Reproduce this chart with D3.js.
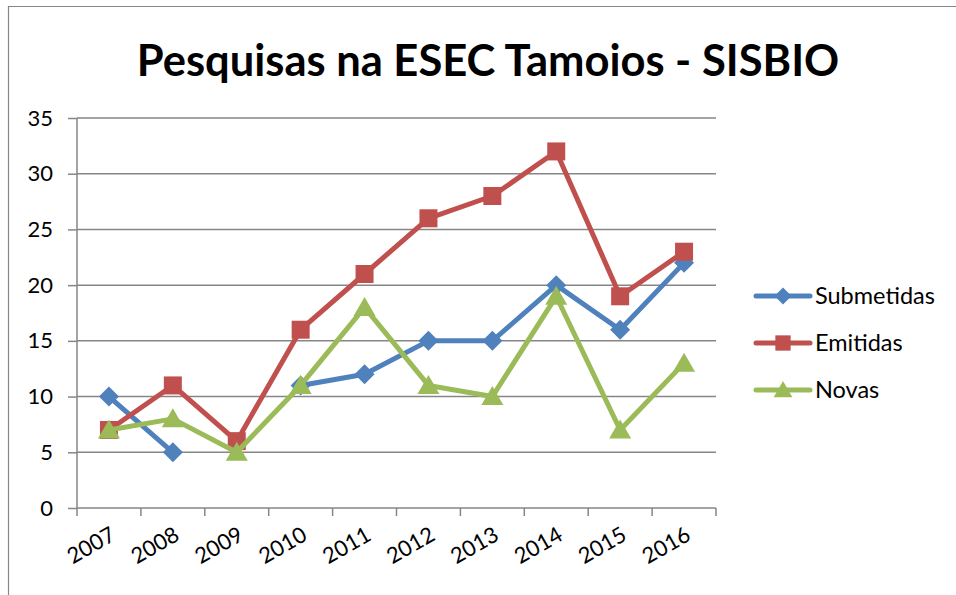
<!DOCTYPE html>
<html><head><meta charset="utf-8">
<script src="https://cdn.jsdelivr.net/npm/d3@7"></script>
<style>body{margin:0;background:#fff}svg{display:block}</style>
</head><body>
<svg id="c" width="956" height="595"></svg>
<script>
const years = ["2007","2008","2009","2010","2011","2012","2013","2014","2015","2016"];
const submetidas = [10, 5, null, 11, 12, 15, 15, 20, 16, 22];
const emitidas = [7, 11, 6, 16, 21, 26, 28, 32, 19, 23];
const novas = [7, 8, 5, 11, 18, 11, 10, 19, 7, 13];
const yTicks = [0, 5, 10, 15, 20, 25, 30, 35];
const seriesNames = ["Submetidas", "Emitidas", "Novas"];

const series = [
  {name: seriesNames[0], values: submetidas, color: "#4F81BD", marker: "diamond"},
  {name: seriesNames[1], values: emitidas, color: "#C0504D", marker: "square"},
  {name: seriesNames[2], values: novas, color: "#9BBB59", marker: "triangle"}
];

const svg = d3.select("#c");
const font = "Lato, 'Open Sans', sans-serif";
const L = 77, R = 716, T = 118, B = 508;

// outer border
svg.append("path").attr("d", "M8.5,600 V6.5 H956").attr("fill","none").attr("stroke","#868686").attr("stroke-width",1.2);

svg.append("text").attr("x", 488).attr("y", 76).attr("text-anchor","middle")
  .attr("font-family", font).attr("font-weight","bold").attr("font-size", 43.5)
  .attr("fill","#000").text("Pesquisas na ESEC Tamoios - SISBIO");

const x = d3.scaleBand().domain(years).range([L, R]).padding(0);
const y = d3.scaleLinear().domain([0, 35]).range([B, T]);

// gridlines
svg.append("g").selectAll("line").data(yTicks.filter(d=>d>0)).join("line")
  .attr("x1", L).attr("x2", R).attr("y1", d=>y(d)).attr("y2", d=>y(d))
  .attr("stroke","#868686").attr("stroke-width",1.5);

// y axis
const yAxis = svg.append("g").attr("transform",`translate(${L},0)`)
  .call(d3.axisLeft(y).tickValues(yTicks).tickSize(9).tickPadding(15));
yAxis.select(".domain").attr("stroke","#868686").attr("stroke-width",1.5).attr("d",`M0,${T}V${B}`);
yAxis.selectAll(".tick line").attr("stroke","#868686").attr("stroke-width",1.5);
yAxis.selectAll("text").attr("font-family", font).attr("font-size",22).attr("fill","#000");

// x axis
const xg = svg.append("g").attr("transform",`translate(0,${B})`);
xg.append("line").attr("x1",L).attr("x2",R).attr("stroke","#868686").attr("stroke-width",1.5);
const bounds = years.map(d=>x(d)).concat([R]);
xg.selectAll("line.t").data(bounds).join("line").attr("class","t")
  .attr("x1",d=>d).attr("x2",d=>d).attr("y1",0).attr("y2",8)
  .attr("stroke","#868686").attr("stroke-width",1.5);
xg.selectAll("text").data(years).join("text")
  .attr("transform", d=>`translate(${x(d)+x.bandwidth()/2+8},${31}) rotate(-30)`)
  .attr("text-anchor","end").attr("font-family",font).attr("font-size",22).attr("fill","#000")
  .text(d=>d);

const cx = d => x(d) + x.bandwidth()/2;

function markerPath(type, s) {
  if (type === "diamond") return `M0,${-s}L${s},0L0,${s}L${-s},0Z`;
  if (type === "square") return `M${-s},${-s}H${s}V${s}H${-s}Z`;
  return `M0,${-s*1.05}L${s*1.1},${s*0.85}H${-s*1.1}Z`;
}
const msize = {diamond: 10, square: 9, triangle: 10};

series.forEach(s => {
  const line = d3.line().defined(d=>d.v!=null).x(d=>cx(d.k)).y(d=>y(d.v));
  const pts = years.map((k,i)=>({k, v:s.values[i]}));
  svg.append("path").datum(pts).attr("d", line).attr("fill","none")
    .attr("stroke", s.color).attr("stroke-width",5).attr("stroke-linejoin","round");
  svg.append("g").selectAll("path").data(pts.filter(d=>d.v!=null)).join("path")
    .attr("transform", d=>`translate(${cx(d.k)},${y(d.v)})`)
    .attr("d", markerPath(s.marker, msize[s.marker])).attr("fill", s.color);
});

// legend
const lg = svg.append("g");
series.forEach((s,i) => {
  const yy = 296 + i*47;
  lg.append("line").attr("x1",756).attr("x2",810).attr("y1",yy).attr("y2",yy)
    .attr("stroke",s.color).attr("stroke-width",5).attr("stroke-linecap","round");
  lg.append("path").attr("transform",`translate(783,${yy})`).attr("d", markerPath(s.marker, msize[s.marker]*0.85)).attr("fill",s.color);
  lg.append("text").attr("x",815).attr("y",yy+8).attr("font-family",font).attr("font-size",23.5).attr("fill","#000").text(s.name);
});
</script>
</body></html>
